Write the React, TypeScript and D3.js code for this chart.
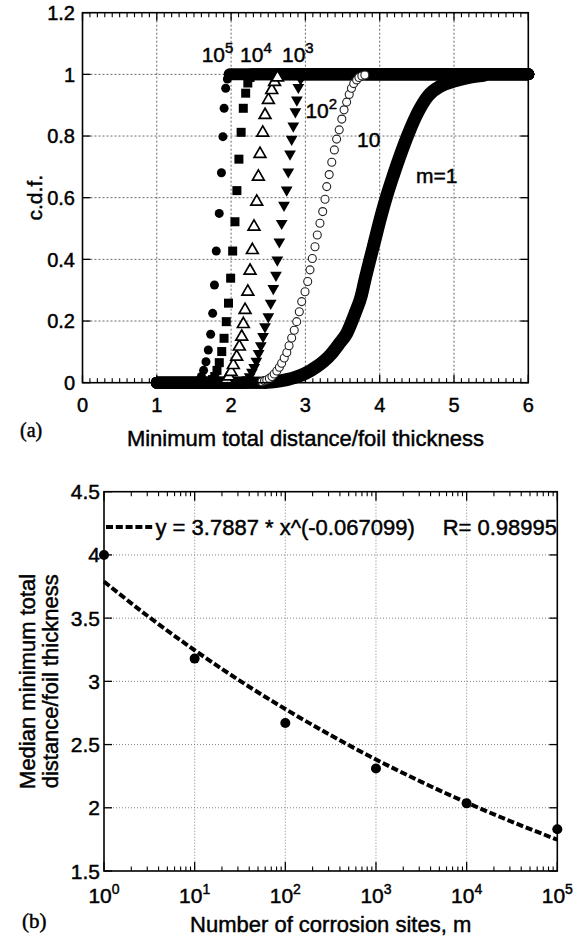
import React from "react";
import * as d3 from "d3";

// ---------- Panel (a) data: c.d.f. of minimum total distance ----------
const topXTicks = [0, 1, 2, 3, 4, 5, 6];
const topYTicks = [0, 0.2, 0.4, 0.6, 0.8, 1, 1.2];
const topXGrid = [1, 2, 3, 4, 5];
const topYGrid = [0.2, 0.4, 0.6, 0.8, 1];

// transition points [x, cdf]
const cdfM1: [number, number][] = [
  [2.45, 0.001], [2.6, 0.004], [2.75, 0.01], [2.883, 0.019], [3.0, 0.03], [3.152, 0.052],
  [3.25, 0.07], [3.354, 0.095], [3.45, 0.125], [3.556, 0.16], [3.668, 0.225], [3.75, 0.28],
  [3.801, 0.333], [3.913, 0.441], [4.027, 0.549], [4.1, 0.61], [4.18, 0.67], [4.28, 0.74],
  [4.39, 0.81], [4.51, 0.875], [4.65, 0.93], [4.82, 0.962], [5.0, 0.978], [5.2, 0.99], [5.4, 0.997],
];
const cdfM10: [number, number][] = [
  [2.415, 0.003], [2.45, 0.006], [2.48, 0.009], [2.515, 0.014], [2.55, 0.02], [2.58, 0.028],
  [2.615, 0.038], [2.65, 0.05], [2.68, 0.063], [2.715, 0.08], [2.75, 0.098], [2.78, 0.12],
  [2.815, 0.145], [2.85, 0.17], [2.883, 0.198], [2.918, 0.23], [2.95, 0.263], [2.995, 0.295],
  [3.031, 0.328], [3.062, 0.366], [3.093, 0.403], [3.129, 0.441], [3.16, 0.479], [3.196, 0.517],
  [3.233, 0.555], [3.264, 0.595], [3.287, 0.636], [3.32, 0.675], [3.355, 0.715], [3.39, 0.755],
  [3.42, 0.79], [3.455, 0.82], [3.49, 0.855], [3.52, 0.885], [3.555, 0.91], [3.59, 0.935],
  [3.62, 0.955], [3.65, 0.97], [3.69, 0.982], [3.72, 0.99], [3.76, 0.995], [3.8, 0.998],
];
const cdfM100: [number, number][] = [
  [2.19, 0.004], [2.22, 0.01], [2.25, 0.02], [2.28, 0.034], [2.31, 0.05], [2.34, 0.07],
  [2.37, 0.095], [2.4, 0.12], [2.43, 0.15], [2.456, 0.182], [2.501, 0.214], [2.533, 0.258],
  [2.568, 0.306], [2.604, 0.349], [2.622, 0.398], [2.649, 0.457], [2.681, 0.517], [2.712, 0.576],
  [2.748, 0.625], [2.77, 0.684], [2.793, 0.742], [2.815, 0.79], [2.837, 0.833], [2.865, 0.879],
  [2.885, 0.917], [2.905, 0.958], [2.935, 0.985], [2.965, 0.997],
];
const cdfM1000: [number, number][] = [
  [1.94, 0.01], [1.97, 0.02], [2.0, 0.035], [2.03, 0.057], [2.075, 0.084], [2.111, 0.117],
  [2.143, 0.149], [2.165, 0.19], [2.188, 0.236], [2.225, 0.295], [2.255, 0.363], [2.286, 0.43],
  [2.308, 0.506], [2.345, 0.587], [2.367, 0.668], [2.389, 0.742], [2.426, 0.811], [2.457, 0.868],
  [2.502, 0.917], [2.547, 0.949], [2.585, 0.975], [2.625, 0.99],
];
const cdfM1e4: [number, number][] = [
  [1.75, 0.01], [1.78, 0.02], [1.81, 0.04], [1.841, 0.065], [1.874, 0.101], [1.905, 0.144],
  [1.935, 0.198], [1.965, 0.258], [1.994, 0.339], [2.021, 0.427], [2.052, 0.522], [2.078, 0.623],
  [2.105, 0.725], [2.135, 0.812], [2.164, 0.89], [2.196, 0.939], [2.225, 0.972], [2.255, 0.99],
];
const cdfM1e5: [number, number][] = [
  [1.57, 0.008], [1.6, 0.02], [1.63, 0.04], [1.662, 0.068], [1.693, 0.106], [1.725, 0.157],
  [1.752, 0.225], [1.776, 0.317], [1.8, 0.427], [1.84, 0.549], [1.87, 0.681], [1.89, 0.798],
  [1.906, 0.89], [1.927, 0.955], [1.95, 0.985], [1.975, 0.998],
];
// plateaus: cdf = 0 from x=1 up to zeroEnd, cdf = 1 from oneStart up to x=6
const plateauStart = 1;
const plateauEnd = 6;
const zeroEnds = [2.45, 2.4, 2.18, 1.92, 1.73, 1.55];
const oneStarts = [5.4, 3.82, 2.98, 2.64, 2.27, 1.98];
const seriesNames = ["m=1", "10", "10^2", "10^3", "10^4", "10^5"];

// ---------- Panel (b) data ----------
const sitesM = [1, 10, 100, 1000, 10000, 100000];
const medianDist = [4.0, 3.18, 2.67, 2.31, 2.035, 1.83];
const fitX = [1, 3.162, 10, 31.62, 100, 316.2, 1000, 3162, 10000, 31623, 100000];
const fitY = [3.789, 3.507, 3.246, 3.004, 2.781, 2.574, 2.382, 2.205, 2.041, 1.889, 1.748];
const botYTicks = [1.5, 2, 2.5, 3, 3.5, 4, 4.5];
const botYGrid = [2, 2.5, 3, 3.5, 4];
const botXExp = [0, 1, 2, 3, 4, 5];

const FONT = "'Liberation Sans', Arial, Helvetica, sans-serif";
const SERIF = "'Liberation Serif', 'Times New Roman', serif";

export default function App() {
  // panel (a) scales
  const xA = d3.scaleLinear().domain([0, 6]).range([82.5, 528.3]);
  const yA = d3.scaleLinear().domain([0, 1.2]).range([382.7, 12.7]);
  // panel (b) scales
  const xB = d3.scaleLog().domain([1, 1e5]).range([104, 557.3]);
  const yB = d3.scaleLinear().domain([1.5, 4.5]).range([871, 491.7]);

  const aL = xA.range()[0], aR = xA.range()[1], aT = yA.range()[1], aB = yA.range()[0];
  const bL = xB.range()[0], bR = xB.range()[1], bT = yB.range()[1], bB = yB.range()[0];

  const minorA = d3.range(0, 61).map((i) => i / 10).filter((v) => Math.abs(v - Math.round(v)) > 1e-6);
  const minorB: number[] = [];
  for (let d = 0; d < 5; d++) for (let k = 2; k <= 9; k++) minorB.push(k * Math.pow(10, d));

  const lineA = d3.line<[number, number]>().x((d) => xA(d[0])).y((d) => yA(d[1])).curve(d3.curveMonotoneX);
  const fitLine = d3
    .line<number>()
    .x((_, i) => xB(fitX[i]))
    .y((d) => yB(d))
    .curve(d3.curveMonotoneX);

  const triUp = d3.symbol().type(d3.symbolTriangle).size(60)() as string;
  const triDown = d3.symbol().type(d3.symbolTriangle).size(60)() as string;

  const plateauW = 12;
  const ts = { stroke: "#000", strokeWidth: 0.45 } as const;

  return (
    <svg
      width={574}
      height={940}
      style={{ position: "absolute", left: 0, top: 0, background: "#fff" }}
      fontFamily={FONT}
    >
      <rect x={0} y={0} width={574} height={940} fill="#fff" />
      {/* ================= Panel (a) ================= */}
      <g>
        {topXGrid.map((v) => (
          <line key={"gx" + v} x1={xA(v)} x2={xA(v)} y1={aT} y2={aB} stroke="#444" strokeWidth={0.8} strokeDasharray="2,2" />
        ))}
        {topYGrid.map((v) => (
          <line key={"gy" + v} x1={aL} x2={aR} y1={yA(v)} y2={yA(v)} stroke="#444" strokeWidth={0.8} strokeDasharray="2,2" />
        ))}
        {/* minor ticks x (top and bottom) */}
        {minorA.map((v) => (
          <g key={"mn" + v}>
            <line x1={xA(v)} x2={xA(v)} y1={aB} y2={aB - 4.5} stroke="#000" strokeWidth={1.1} />
            <line x1={xA(v)} x2={xA(v)} y1={aT} y2={aT + 4.5} stroke="#000" strokeWidth={1.1} />
          </g>
        ))}
        {topXTicks.map((v) => (
          <g key={"tx" + v}>
            <line x1={xA(v)} x2={xA(v)} y1={aB} y2={aB - 8} stroke="#000" strokeWidth={1.3} />
            <line x1={xA(v)} x2={xA(v)} y1={aT} y2={aT + 8} stroke="#000" strokeWidth={1.3} />
            <text x={xA(v)} y={aB + 29} textAnchor="middle" fontSize={20} {...ts}>
              {v}
            </text>
          </g>
        ))}
        {topYTicks.map((v) => (
          <g key={"ty" + v}>
            <line x1={aL} x2={aL + 8} y1={yA(v)} y2={yA(v)} stroke="#000" strokeWidth={1.3} />
            <line x1={aR} x2={aR - 8} y1={yA(v)} y2={yA(v)} stroke="#000" strokeWidth={1.3} />
            <text x={aL - 7.5} y={yA(v)} dy="0.36em" textAnchor="end" fontSize={20} {...ts}>
              {v}
            </text>
          </g>
        ))}

        {/* plateaus (dense overlapping markers appear as solid bars) */}
        {zeroEnds.map((z, i) => (
          <line key={"z" + i} x1={xA(plateauStart)} x2={xA(z)} y1={yA(0)} y2={yA(0)} stroke="#000" strokeWidth={plateauW} strokeLinecap="round" />
        ))}
        {oneStarts.map((o, i) => (
          <line key={"o" + i} x1={xA(o)} x2={xA(plateauEnd)} y1={yA(1)} y2={yA(1)} stroke="#000" strokeWidth={plateauW} strokeLinecap="round" />
        ))}

        {/* m = 1 : dense filled circles -> thick band */}
        <path d={lineA(cdfM1) as string} fill="none" stroke="#000" strokeWidth={13} strokeLinejoin="round" strokeLinecap="round" />
        {cdfM1.map((d, i) => (
          <circle key={"m1" + i} cx={xA(d[0])} cy={yA(d[1])} r={6} fill="#000" />
        ))}

        {/* m = 10 : open circles */}
        {cdfM10.map((d, i) => (
          <circle key={"m10" + i} cx={xA(d[0])} cy={yA(d[1])} r={4} fill="#fff" stroke="#222" strokeWidth={1.1} />
        ))}

        {/* m = 100 : filled down triangles */}
        {cdfM100.map((d, i) => (
          <path key={"m100" + i} d={triDown} transform={`translate(${xA(d[0])},${yA(d[1])}) rotate(180)`} fill="#000" />
        ))}

        {/* m = 1000 : open up triangles */}
        {cdfM1000.map((d, i) => (
          <path key={"m1000" + i} d={triUp} transform={`translate(${xA(d[0])},${yA(d[1])})`} fill="#fff" stroke="#000" strokeWidth={1.7} />
        ))}

        {/* m = 1e4 : filled squares */}
        {cdfM1e4.map((d, i) => (
          <rect key={"m1e4" + i} x={xA(d[0]) - 4.5} y={yA(d[1]) - 4.5} width={9} height={9} fill="#000" />
        ))}

        {/* m = 1e5 : filled circles */}
        {cdfM1e5.map((d, i) => (
          <circle key={"m1e5" + i} cx={xA(d[0])} cy={yA(d[1])} r={4.5} fill="#000" />
        ))}

        {/* axes frame */}
        <rect x={aL} y={aT} width={aR - aL} height={aB - aT} fill="none" stroke="#000" strokeWidth={1.6} />

        {/* series labels */}
        <text x={xA(1.604)} y={yA(1.041)} fontSize={21} {...ts}>
          10<tspan fontSize={15} dy={-8.5}>5</tspan>
        </text>
        <text x={xA(2.12)} y={yA(1.041)} fontSize={21} {...ts}>
          10<tspan fontSize={15} dy={-8.5}>4</tspan>
        </text>
        <text x={xA(2.685)} y={yA(1.041)} fontSize={21} {...ts}>
          10<tspan fontSize={15} dy={-8.5}>3</tspan>
        </text>
        <text x={xA(3.0)} y={yA(0.859)} fontSize={21} {...ts}>
          10<tspan fontSize={15} dy={-8.5}>2</tspan>
        </text>
        <text x={xA(3.694)} y={yA(0.765)} fontSize={21} {...ts}>
          {seriesNames[1]}
        </text>
        <text x={xA(4.489)} y={yA(0.648)} fontSize={21} {...ts}>
          {seriesNames[0]}
        </text>

        <text transform={`translate(42,${(aT + aB) / 2}) rotate(-90)`} textAnchor="middle" fontSize={21} {...ts}>
          c.d.f.
        </text>
        <text x={(aL + aR) / 2} y={446} textAnchor="middle" fontSize={22} {...ts}>
          Minimum total distance/foil thickness
        </text>
        <text x={20} y={437} fontFamily={SERIF} fontSize={20} {...ts}>
          (a)
        </text>
      </g>

      {/* ================= Panel (b) ================= */}
      <g>
        {botXExp.slice(1, 5).map((e) => (
          <line key={"bgx" + e} x1={xB(Math.pow(10, e))} x2={xB(Math.pow(10, e))} y1={bT} y2={bB} stroke="#777" strokeWidth={0.9} strokeDasharray="1,2" />
        ))}
        {botYGrid.map((v) => (
          <line key={"bgy" + v} x1={bL} x2={bR} y1={yB(v)} y2={yB(v)} stroke="#777" strokeWidth={0.9} strokeDasharray="1,2" />
        ))}
        {minorB.map((v) => (
          <g key={"bmn" + v}>
            <line x1={xB(v)} x2={xB(v)} y1={bB} y2={bB - 4.5} stroke="#000" strokeWidth={1.1} />
            <line x1={xB(v)} x2={xB(v)} y1={bT} y2={bT + 4.5} stroke="#000" strokeWidth={1.1} />
          </g>
        ))}
        {botXExp.map((e) => (
          <g key={"bx" + e}>
            <line x1={xB(Math.pow(10, e))} x2={xB(Math.pow(10, e))} y1={bB} y2={bB - 9} stroke="#000" strokeWidth={1.3} />
            <line x1={xB(Math.pow(10, e))} x2={xB(Math.pow(10, e))} y1={bT} y2={bT + 9} stroke="#000" strokeWidth={1.3} />
            <text x={xB(Math.pow(10, e))} y={903} textAnchor="middle" fontSize={21} {...ts}>
              10<tspan fontSize={14} dy={-9}>{e}</tspan>
            </text>
          </g>
        ))}
        {botYTicks.map((v) => (
          <g key={"by" + v}>
            <line x1={bL} x2={bL + 8} y1={yB(v)} y2={yB(v)} stroke="#000" strokeWidth={1.3} />
            <line x1={bR} x2={bR - 8} y1={yB(v)} y2={yB(v)} stroke="#000" strokeWidth={1.3} />
            <text x={bL - 4} y={yB(v)} dy="0.36em" textAnchor="end" fontSize={21} {...ts}>
              {v}
            </text>
          </g>
        ))}

        <path d={fitLine(fitY) as string} fill="none" stroke="#000" strokeWidth={4} strokeDasharray="7,2.8" />
        {sitesM.map((m, i) => (
          <circle key={"pt" + m} cx={xB(m)} cy={yB(medianDist[i])} r={5} fill="#000" />
        ))}

        <rect x={bL} y={bT} width={bR - bL} height={bB - bT} fill="none" stroke="#000" strokeWidth={1.6} />

        {/* legend */}
        <line x1={106} x2={154} y1={527} y2={527} stroke="#000" strokeWidth={4} strokeDasharray="7,2.8" />
        <text x={155.5} y={535} fontSize={22} {...ts}>
          y = 3.7887 * x^(-0.067099)
        </text>
        <text x={557} y={535} textAnchor="end" fontSize={22} {...ts}>
          R= 0.98995
        </text>

        <text transform={`translate(35,${(bT + bB) / 2}) rotate(-90)`} textAnchor="middle" fontSize={22} {...ts}>
          Median minimum total
        </text>
        <text transform={`translate(58,${(bT + bB) / 2}) rotate(-90)`} textAnchor="middle" fontSize={22} {...ts}>
          distance/foil thickness
        </text>
        <text x={(bL + bR) / 2} y={932} textAnchor="middle" fontSize={22} {...ts}>
          Number of corrosion sites, m
        </text>
        <text x={22} y={928} fontFamily={SERIF} fontSize={21} {...ts}>
          (b)
        </text>
      </g>
    </svg>
  );
}
